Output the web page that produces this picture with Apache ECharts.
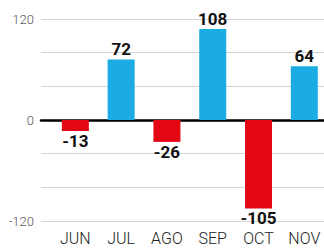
<!DOCTYPE html>
<html>
<head>
<meta charset="utf-8" />
<script src="https://cdn.jsdelivr.net/npm/echarts@6/dist/echarts.min.js"></script>
<title>chart</title>
<style>html,body{margin:0;padding:0;background:#fff;}</style>
</head>
<body>
<div id="main" style="width:324px;height:250px"></div>
<script type="text/javascript">
var months = ['JUN', 'JUL', 'AGO', 'SEP', 'OCT', 'NOV'];
var values = [-13, 72, -26, 108, -105, 64];
var yTicks = [-120, 0, 120];

var myChart = echarts.init(document.getElementById('main'), null, { renderer: 'svg' });

// x: month index, y: value
var barData = values.map(function (v, i) {
    return {
        value: [i, v],
        itemStyle: { color: v < 0 ? '#e30613' : '#1aace3' },
        label: { position: v < 0 ? 'bottom' : 'top' }
    };
});

myChart.setOption({
    animation: false,
    grid: { show: false, left: 41, right: 0, top: 19, bottom: 29 },
    xAxis: {
        type: 'value',
        min: -0.75,
        max: 5.43,
        axisLine: { onZero: true, lineStyle: { color: '#000', width: 2.5 } },
        axisTick: { show: false },
        splitLine: { show: false },
        axisLabel: {
            customValues: [0, 1, 2, 3, 4, 5],
            margin: 10,
            fontSize: 16,
            lineHeight: 14,
            fontFamily: 'Roboto',
            fontWeight: 300,
            color: '#222',
            formatter: function (v) {
                return months[Math.round(v)];
            }
        }
    },
    yAxis: {
        type: 'value',
        min: -120,
        max: 120,
        interval: 40,
        axisLine: { show: false },
        axisTick: { show: false },
        splitLine: { lineStyle: { color: '#d4d4d4', width: 1 } },
        axisLabel: {
            margin: 7,
            fontSize: 13,
            fontFamily: 'Roboto',
            fontWeight: 300,
            color: '#555',
            formatter: function (v) {
                return yTicks.indexOf(v) >= 0 ? v : '';
            }
        }
    },
    series: [
        {
            type: 'bar',
            barWidth: 27,
            data: barData,
            label: {
                show: true,
                distance: 3,
                fontSize: 17,
                lineHeight: 14,
                fontWeight: 'bold',
                fontFamily: 'Roboto',
                color: '#111',
                formatter: function (p) { return p.value[1]; }
            }
        }
    ]
});
</script>
</body>
</html>
